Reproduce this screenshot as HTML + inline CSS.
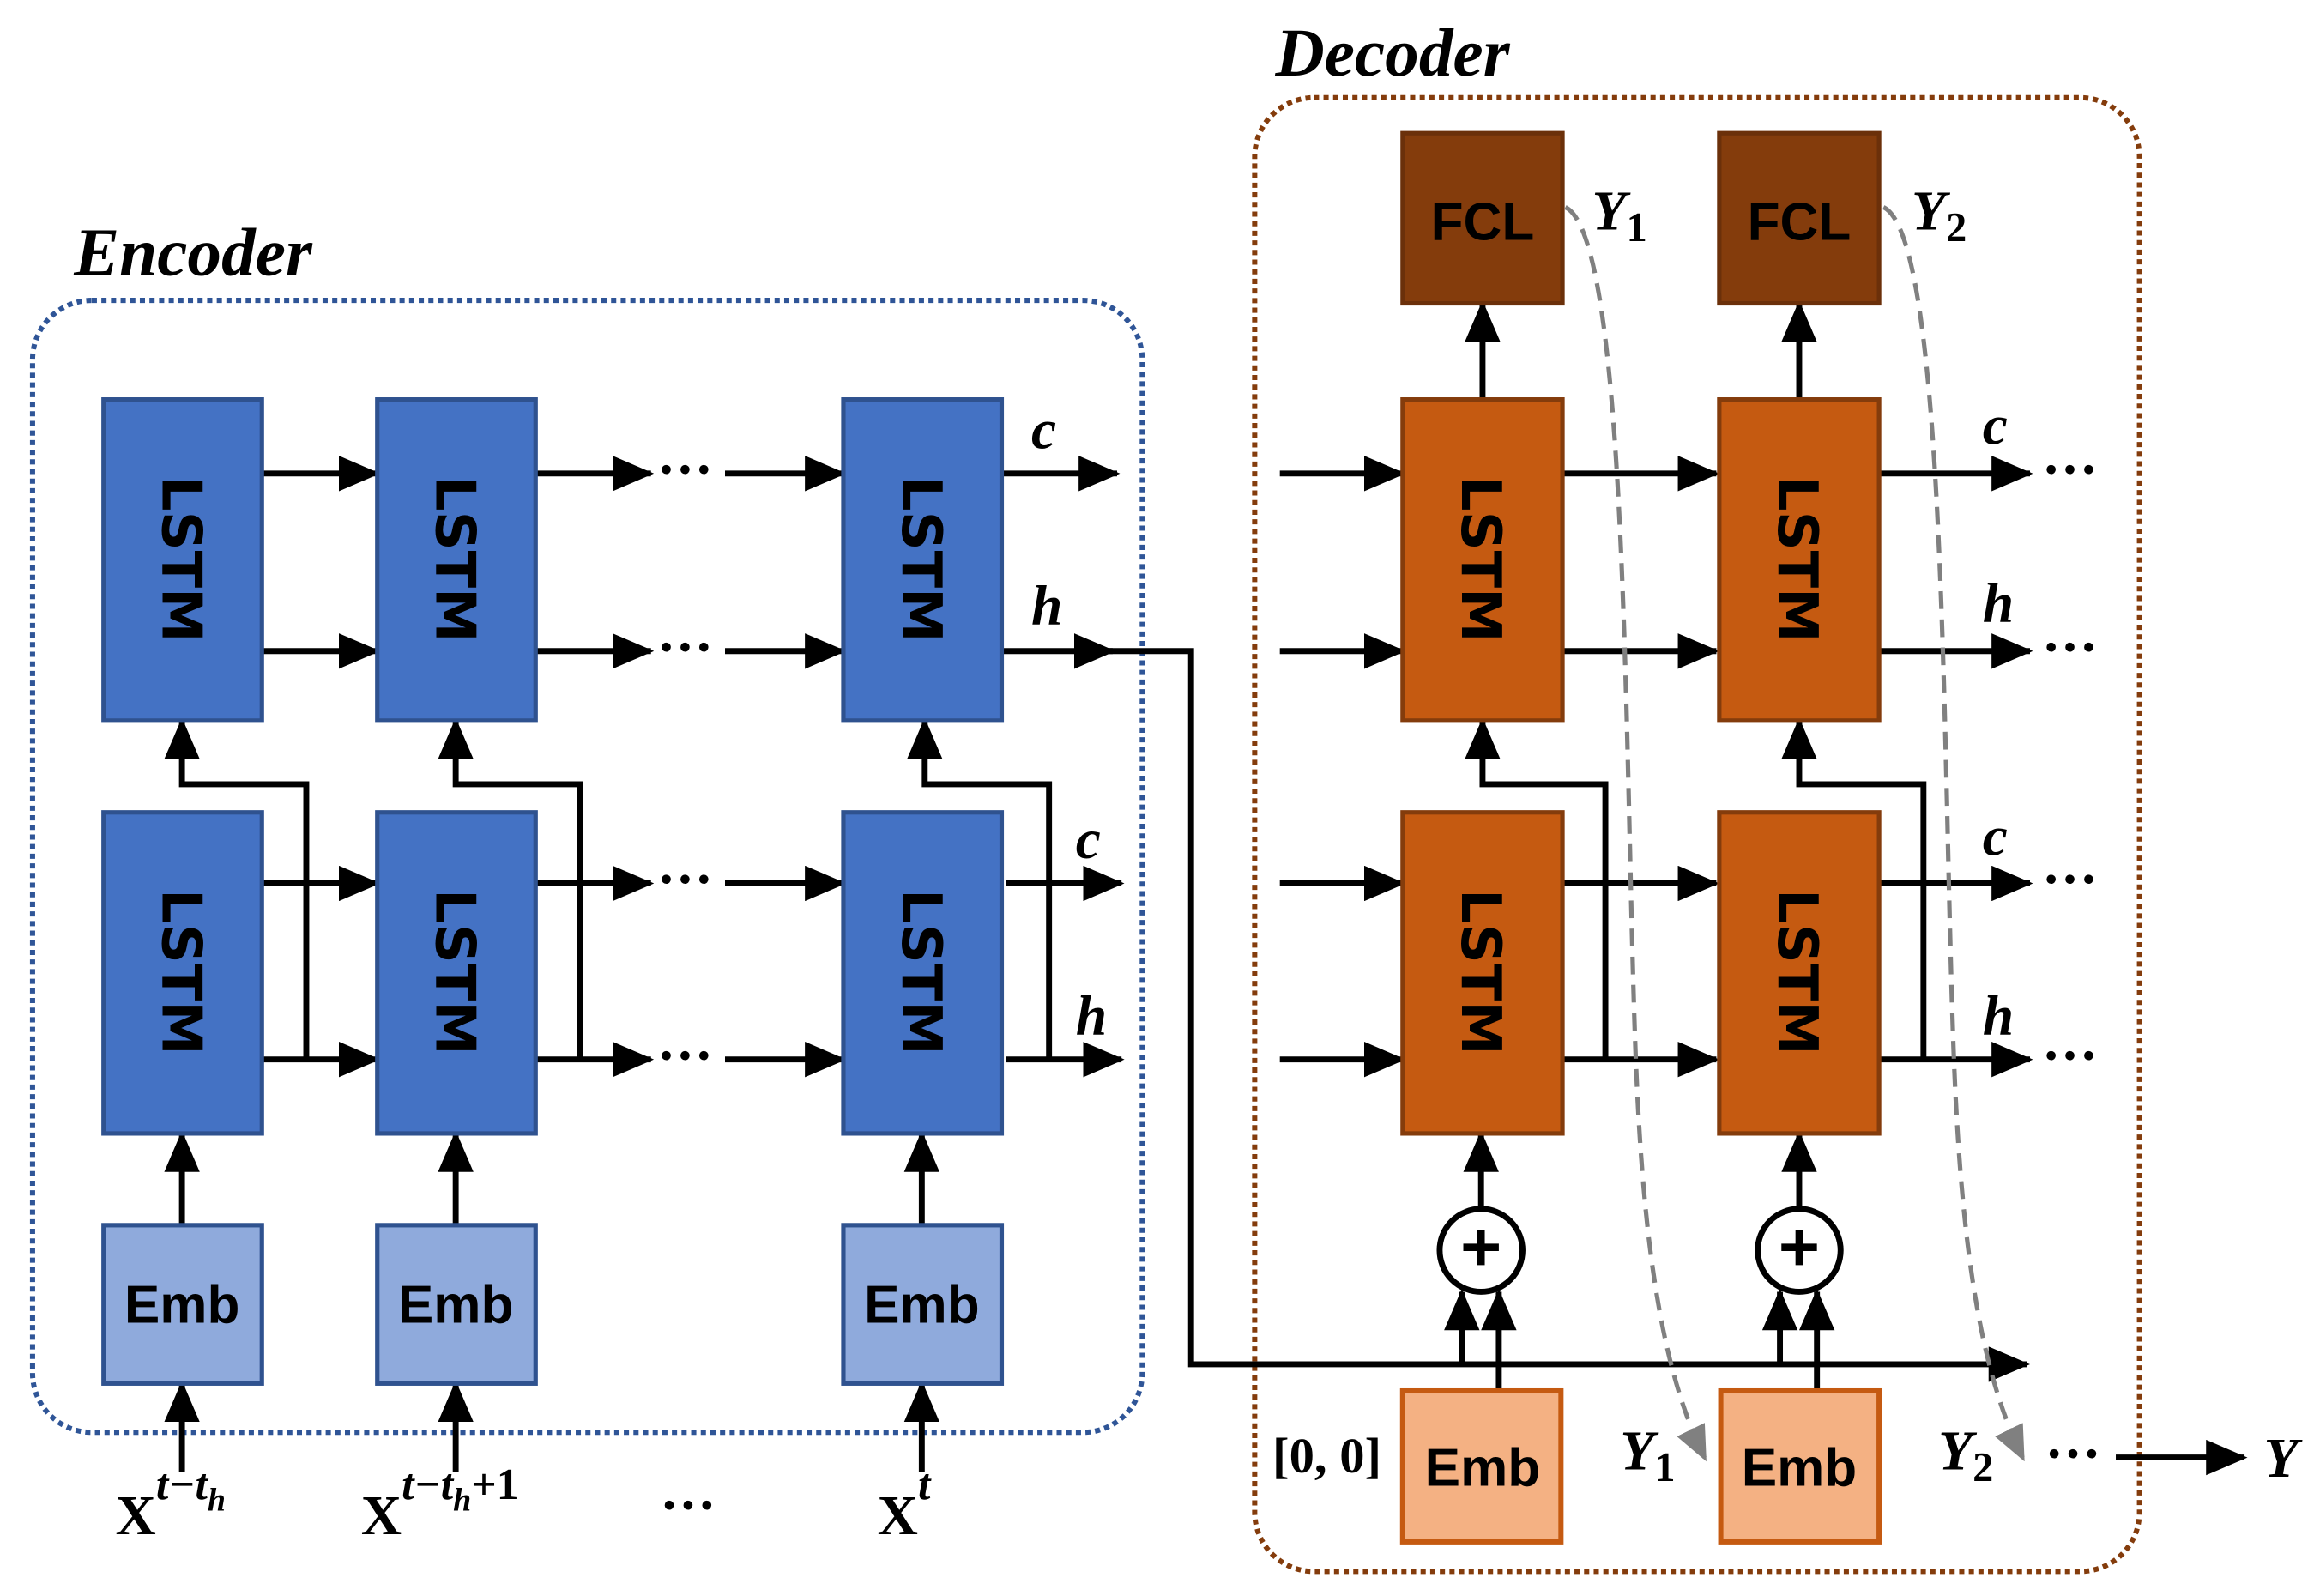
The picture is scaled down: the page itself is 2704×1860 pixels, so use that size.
<!DOCTYPE html>
<html><head><meta charset="utf-8"><style>
html,body{margin:0;padding:0;background:#fff}
svg{display:block}
.lt{font-family:"DejaVu Sans","Liberation Sans",sans-serif;font-weight:bold;font-size:37px;fill:#000}
.it{font-family:"Liberation Serif",serif;font-style:italic;font-weight:bold;fill:#000}
.rm{font-family:"Liberation Serif",serif;font-weight:bold;fill:#000}
</style></head><body>
<svg width="2704" height="1860" viewBox="0 0 1568 1078.6" preserveAspectRatio="none" xmlns="http://www.w3.org/2000/svg">
<defs>
<marker id="a" markerWidth="7" markerHeight="6" refX="6.5" refY="3" orient="auto" markerUnits="strokeWidth"><path d="M0,0 L7,3 L0,6 z" fill="#000"/></marker>
<marker id="g" markerWidth="8" markerHeight="7" refX="7" refY="3.5" orient="auto" markerUnits="strokeWidth"><path d="M0,0 L8,3.5 L0,7 z" fill="#808080"/></marker>
</defs>
<rect x="22" y="203" width="750" height="765" rx="40" fill="none" stroke="#2F5597" stroke-width="3.5" stroke-dasharray="3.5,3"/>
<rect x="848" y="66" width="598" height="996" rx="40" fill="none" stroke="#843C0C" stroke-width="3.5" stroke-dasharray="3.5,3"/>
<text class="it" x="50" y="186" font-size="46">Encoder</text>
<text class="it" x="862" y="51" font-size="46">Decoder</text>

<g stroke="#000" stroke-width="4" fill="none" marker-end="url(#a)">
<line x1="177" y1="320" x2="255" y2="320"/><line x1="177" y1="440" x2="255" y2="440"/>
<line x1="362" y1="320" x2="440" y2="320"/><line x1="362" y1="440" x2="440" y2="440"/>
<line x1="490" y1="320" x2="570" y2="320"/><line x1="490" y1="440" x2="570" y2="440"/>
<line x1="677" y1="320" x2="755" y2="320"/><line x1="677" y1="440" x2="752" y2="440"/>
<line x1="177" y1="597" x2="255" y2="597"/><line x1="177" y1="716" x2="255" y2="716"/>
<line x1="362" y1="597" x2="440" y2="597"/><line x1="362" y1="716" x2="440" y2="716"/>
<line x1="490" y1="597" x2="570" y2="597"/><line x1="490" y1="716" x2="570" y2="716"/>
<line x1="680" y1="597" x2="758" y2="597"/><line x1="680" y1="716" x2="758" y2="716"/>
<polyline points="207,716 207,530 123,530 123,487"/>
<polyline points="392,716 392,530 308,530 308,487"/>
<polyline points="709,716 709,530 625,530 625,487"/>
<line x1="123" y1="828" x2="123" y2="766"/><line x1="308" y1="828" x2="308" y2="766"/><line x1="623" y1="828" x2="623" y2="766"/>
<line x1="123" y1="995" x2="123" y2="935"/><line x1="308" y1="995" x2="308" y2="935"/><line x1="623" y1="995" x2="623" y2="935"/>
<polyline points="740,440 805,440 805,922 1370,922"/>
<line x1="865" y1="320" x2="948" y2="320"/><line x1="865" y1="440" x2="948" y2="440"/>
<line x1="865" y1="597" x2="948" y2="597"/><line x1="865" y1="716" x2="948" y2="716"/>
<line x1="1056" y1="320" x2="1160" y2="320"/><line x1="1056" y1="440" x2="1160" y2="440"/>
<line x1="1056" y1="597" x2="1160" y2="597"/><line x1="1056" y1="716" x2="1160" y2="716"/>
<line x1="1270" y1="320" x2="1372" y2="320"/><line x1="1270" y1="440" x2="1372" y2="440"/>
<line x1="1270" y1="597" x2="1372" y2="597"/><line x1="1270" y1="716" x2="1372" y2="716"/>
<polyline points="1085,716 1085,530 1002,530 1002,487"/>
<polyline points="1300,716 1300,530 1216,530 1216,487"/>
<line x1="1002" y1="270" x2="1002" y2="205"/><line x1="1216" y1="270" x2="1216" y2="205"/>
<line x1="1001" y1="817" x2="1001" y2="766"/><line x1="1216" y1="817" x2="1216" y2="766"/>
<line x1="988" y1="922" x2="988" y2="873"/><line x1="1013" y1="940" x2="1013" y2="873"/>
<line x1="1203" y1="922" x2="1203" y2="873"/><line x1="1228" y1="940" x2="1228" y2="873"/>
<line x1="1430" y1="985" x2="1517" y2="985"/>
</g>

<g fill="#4472C4" stroke="#2F528F" stroke-width="3">
<rect x="70" y="270" width="107" height="217"/><rect x="255" y="270" width="107" height="217"/><rect x="570" y="270" width="107" height="217"/>
<rect x="70" y="549" width="107" height="217"/><rect x="255" y="549" width="107" height="217"/><rect x="570" y="549" width="107" height="217"/>
</g>
<g fill="#8FAADC" stroke="#2F528F" stroke-width="3">
<rect x="70" y="828" width="107" height="107"/><rect x="255" y="828" width="107" height="107"/><rect x="570" y="828" width="107" height="107"/>
</g>
<g fill="#843C0C" stroke="#6b300a" stroke-width="3">
<rect x="948" y="90" width="108" height="115"/><rect x="1162" y="90" width="108" height="115"/>
</g>
<g fill="#C55A11" stroke="#843C0C" stroke-width="3">
<rect x="948" y="270" width="108" height="217"/><rect x="1162" y="270" width="108" height="217"/>
<rect x="948" y="549" width="108" height="217"/><rect x="1162" y="549" width="108" height="217"/>
</g>
<g fill="#F4B183" stroke="#C55A11" stroke-width="3.5">
<rect x="948" y="940" width="107" height="102"/><rect x="1163" y="940" width="107" height="102"/>
</g>
<g fill="#fff" stroke="#000" stroke-width="4">
<circle cx="1001" cy="845" r="28"/><circle cx="1216" cy="845" r="28"/>
</g>
<g stroke="#000" stroke-width="5">
<line x1="989" y1="843" x2="1013" y2="843"/><line x1="1001" y1="831" x2="1001" y2="855"/>
<line x1="1204" y1="843" x2="1228" y2="843"/><line x1="1216" y1="831" x2="1216" y2="855"/>
</g>

<g class="lt">
<text transform="translate(110,378) rotate(90)" text-anchor="middle">LSTM</text>
<text transform="translate(295,378) rotate(90)" text-anchor="middle">LSTM</text>
<text transform="translate(610,378) rotate(90)" text-anchor="middle">LSTM</text>
<text transform="translate(110,657) rotate(90)" text-anchor="middle">LSTM</text>
<text transform="translate(295,657) rotate(90)" text-anchor="middle">LSTM</text>
<text transform="translate(610,657) rotate(90)" text-anchor="middle">LSTM</text>
<text transform="translate(988,378) rotate(90)" text-anchor="middle">LSTM</text>
<text transform="translate(1202,378) rotate(90)" text-anchor="middle">LSTM</text>
<text transform="translate(988,657) rotate(90)" text-anchor="middle">LSTM</text>
<text transform="translate(1202,657) rotate(90)" text-anchor="middle">LSTM</text>
</g>
<g font-family="'Liberation Sans',sans-serif" font-weight="bold" font-size="36" text-anchor="middle" fill="#000">
<text x="123" y="894">Emb</text><text x="308" y="894">Emb</text><text x="623" y="894">Emb</text>
<text x="1002" y="1004">Emb</text><text x="1216" y="1004">Emb</text>
<text x="1002" y="162">FCL</text><text x="1216" y="162">FCL</text>
</g>

<g stroke="#808080" stroke-width="3" fill="none" stroke-dasharray="12,7" marker-end="url(#g)">
<path d="M1058,140 C1100,160 1098,500 1105,700 C1110,850 1125,930 1152,985"/>
<path d="M1273,140 C1315,160 1313,500 1320,700 C1325,850 1340,930 1367,985"/>
</g>

<g class="it" font-size="38">
<text x="697" y="303">c</text><text x="697" y="422">h</text>
<text x="727" y="580">c</text><text x="727" y="699">h</text>
<text x="1340" y="300">c</text><text x="1340" y="420">h</text>
<text x="1340" y="578">c</text><text x="1340" y="699">h</text>
<text x="1076" y="155">Y<tspan font-size="28" dy="8" font-style="normal">1</tspan></text>
<text x="1292" y="155">Y<tspan font-size="28" dy="8" font-style="normal">2</tspan></text>
<text x="1095" y="993">Y<tspan font-size="28" dy="8" font-style="normal">1</tspan></text>
<text x="1310" y="993">Y<tspan font-size="28" dy="8" font-style="normal">2</tspan></text>
<text x="1530" y="998">Y</text>
</g>
<text class="rm" x="860" y="995" font-size="34">[0, 0]</text>
<g class="rm" font-size="38">
<text x="78" y="1037">X<tspan class="it" font-size="30" dy="-24">t−t</tspan><tspan class="it" font-size="22" dy="8">h</tspan></text>
<text x="244" y="1037">X<tspan class="it" font-size="30" dy="-24">t−t</tspan><tspan class="it" font-size="22" dy="8">h</tspan><tspan font-size="30" dy="-8">+1</tspan></text>
<text x="593" y="1037">X<tspan class="it" font-size="30" dy="-24">t</tspan></text>
</g>
<g class="rm" font-size="38">
<text x="444" y="330">···</text><text x="444" y="450">···</text>
<text x="444" y="607">···</text><text x="444" y="726">···</text>
<text x="446" y="1030">···</text>
<text x="1380" y="330">···</text><text x="1380" y="450">···</text>
<text x="1380" y="607">···</text><text x="1380" y="726">···</text>
<text x="1382" y="995">···</text>
</g>
</svg>
</body></html>
